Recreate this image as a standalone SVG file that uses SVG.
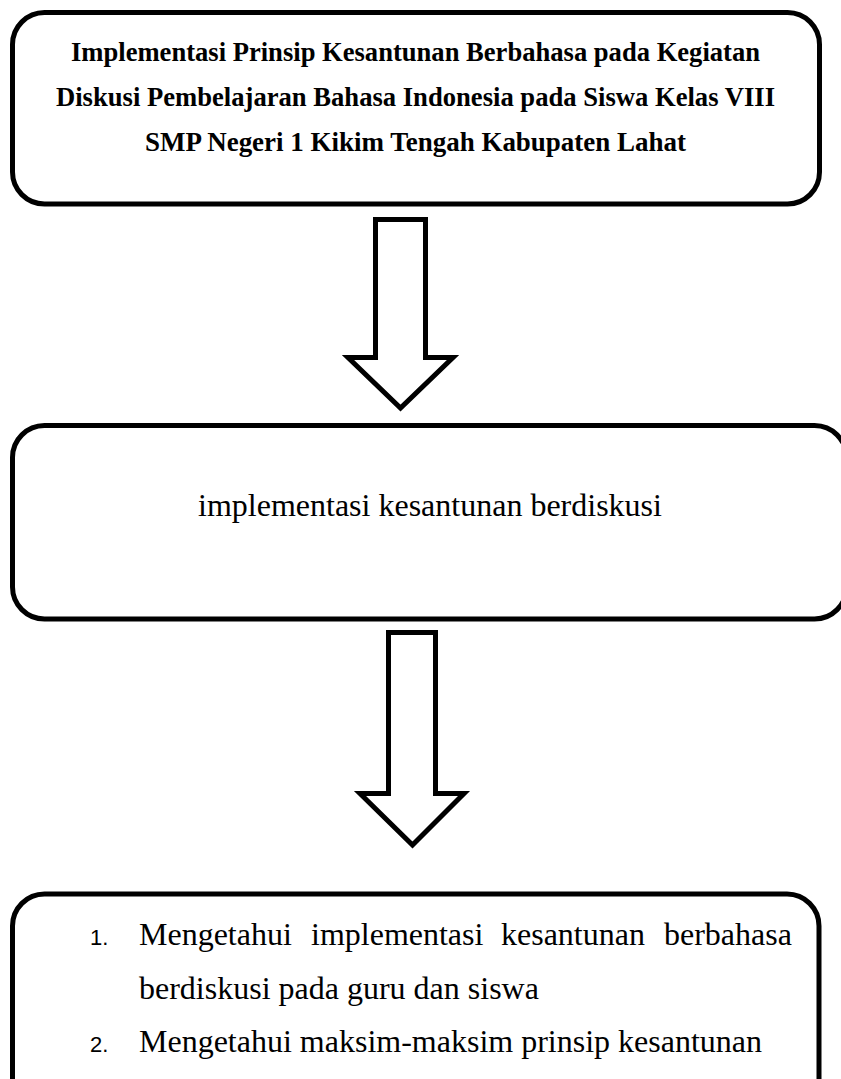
<svg xmlns="http://www.w3.org/2000/svg" width="841" height="1079" viewBox="0 0 841 1079">
<style>
.box{fill:#fff;stroke:#000;stroke-width:5}
.arrow{fill:#fff;stroke:#000;stroke-width:5;stroke-linejoin:miter}
.tb{font-family:"Liberation Serif","Times New Roman",serif;font-weight:bold;font-size:27px;fill:#000;text-anchor:middle}
.t{font-family:"Liberation Serif","Times New Roman",serif;font-size:32px;fill:#000}
.n{font-family:"Liberation Sans",Arial,sans-serif;font-size:22px;fill:#000}
</style>
<rect width="841" height="1079" fill="#fff"/>
<g id="node-title">
<rect class="box" x="12.5" y="12.5" width="807" height="191.5" rx="32"/>
<text class="tb" x="415.5" y="61" textLength="689" lengthAdjust="spacingAndGlyphs">Implementasi Prinsip Kesantunan Berbahasa pada Kegiatan</text>
<text class="tb" x="415.5" y="106" textLength="719" lengthAdjust="spacingAndGlyphs">Diskusi Pembelajaran Bahasa Indonesia pada Siswa Kelas VIII</text>
<text class="tb" x="415.5" y="151" textLength="541" lengthAdjust="spacingAndGlyphs">SMP Negeri 1 Kikim Tengah Kabupaten Lahat</text>
</g>
<g id="node-implementasi">
<rect class="box" x="12.5" y="425.5" width="834" height="193.5" rx="32"/>
<text class="t" x="430" y="516" text-anchor="middle">implementasi kesantunan berdiskusi</text>
</g>
<g id="node-tujuan">
<rect class="box" x="12.5" y="894" width="806.5" height="220" rx="32"/>
<text class="n" x="90" y="945">1.</text>
<text class="t" y="945"><tspan x="139">Mengetahui</tspan><tspan x="311">implementasi</tspan><tspan x="501">kesantunan</tspan><tspan x="664">berbahasa</tspan></text>
<text class="t" x="139" y="998.5">berdiskusi pada guru dan siswa</text>
<text class="n" x="90" y="1052">2.</text>
<text class="t" x="139" y="1052">Mengetahui maksim-maksim prinsip kesantunan</text>
</g>
<g id="connectors">
<polygon class="arrow" points="375.5,219.5 425.5,219.5 425.5,357.5 453,357.5 400.5,408 348,357.5 375.5,357.5"/>
<polygon class="arrow" points="388.5,632.5 435.5,632.5 435.5,793.5 464,793.5 412.5,845 360,793.5 388.5,793.5"/>
</g>
</svg>
